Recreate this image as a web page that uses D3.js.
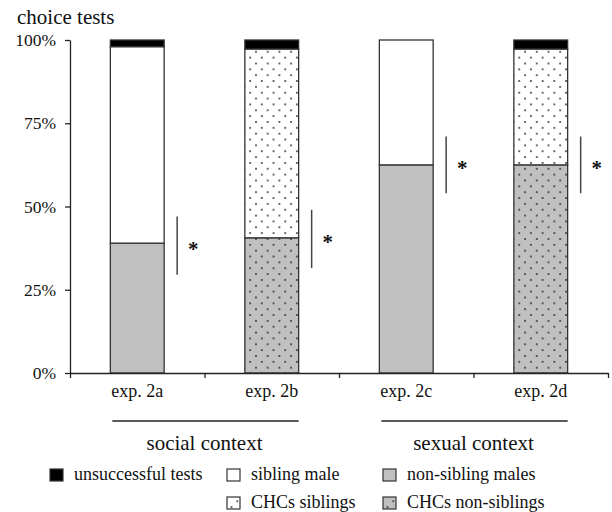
<!DOCTYPE html>
<html>
<head>
<meta charset="utf-8">
<script src="https://cdn.jsdelivr.net/npm/d3@7"></script>
<style>
  body { margin: 0; background: #fff; }
  svg text { font-family: "Liberation Serif", "Times New Roman", serif; fill: #111; }
</style>
</head>
<body>
<svg id="chart" width="612" height="512"></svg>
<script>
// --- data ---
const categories = ["exp. 2a", "exp. 2b", "exp. 2c", "exp. 2d"];
const nonSibling = [39, 40.6, 62.5, 62.5];     // grey part (bottom)
const sibling = [59, 56.7, 37.5, 34.8];        // white part (middle)
const unsuccessful = [2, 2.7, 0, 2.7];         // black part (top)
const usesCHCs = [false, true, false, true];   // dotted = CHC experiments
const sigLow = [29.5, 31.5, 54, 54];
const sigHigh = [47, 49, 71, 71];
const yTicks = [0, 25, 50, 75, 100];
const groupLabels = ["social context", "sexual context"];
const groupFirst = [0, 2];
const groupLast = [1, 3];
const legendLabels = ["unsuccessful tests", "sibling male", "non-sibling males", "CHCs siblings", "CHCs non-siblings"];
const legendKinds = ["unsuccessful", "sibling", "nonSibling", "sibling", "nonSibling"];
const legendDots = [false, false, false, true, true];

const svg = d3.select("#chart");
const grey = "#c0c0c0";
const edge = "#333";

// dotted pattern fill for the CHC bars
const defs = svg.append("defs");
function dotPattern(id, bg) {
  const p = defs.append("pattern")
    .attr("id", id)
    .attr("patternUnits", "userSpaceOnUse")
    .attr("x", 9.3).attr("y", 4)
    .attr("width", 11.7).attr("height", 11.7);
  p.append("rect").attr("width", 11.7).attr("height", 11.7).attr("fill", bg);
  p.append("circle").attr("cx", 1).attr("cy", 1).attr("r", 0.9).attr("fill", "#222");
  p.append("circle").attr("cx", 6.85).attr("cy", 6.85).attr("r", 0.9).attr("fill", "#222");
}
dotPattern("dotsWhite", "#fff");
dotPattern("dotsGrey", grey);

function fillFor(kind, dotted) {
  if (kind === "unsuccessful") return "#000";
  if (kind === "sibling") return dotted ? "url(#dotsWhite)" : "#fff";
  return dotted ? "url(#dotsGrey)" : grey;
}

// --- scales ---
const x = d3.scaleBand().domain(categories).range([70, 608]);
const xEdges = d3.scaleLinear().domain([0, categories.length]).range([70, 608]);
const y = d3.scaleLinear().domain([0, 100]).range([373, 40]);
const barW = x.bandwidth() * 0.4;
const barX = (c) => x(c) + (x.bandwidth() - barW) / 2;

// --- stacked bars ---
const stacks = categories.map((c, i) => {
  const segs = [];
  let base = 0;
  [["nonSibling", nonSibling[i]], ["sibling", sibling[i]], ["unsuccessful", unsuccessful[i]]].forEach(([k, v]) => {
    if (v > 0) segs.push({ cat: c, kind: k, y0: base, y1: base + v, dotted: usesCHCs[i] });
    base += v;
  });
  return segs;
}).flat();

svg.append("g").selectAll("rect")
  .data(stacks)
  .join("rect")
  .attr("x", (d) => barX(d.cat))
  .attr("width", barW)
  .attr("y", (d) => y(d.y1))
  .attr("height", (d) => y(d.y0) - y(d.y1))
  .attr("fill", (d) => fillFor(d.kind, d.dotted))
  .attr("stroke", edge)
  .attr("stroke-width", 1.3);

// --- axes ---
const yAxis = svg.append("g")
  .attr("transform", "translate(70,0)")
  .call(d3.axisLeft(y).tickValues(yTicks).tickFormat((d) => d + "%").tickSize(5).tickPadding(9).tickSizeOuter(0));
yAxis.selectAll("text").style("font-size", "17.5px").attr("fill", "#111");
yAxis.selectAll("path, line").attr("stroke", "#222").attr("stroke-width", 1.3);

const xAxis = svg.append("g")
  .attr("transform", "translate(0,373)")
  .call(d3.axisBottom(xEdges).tickValues(d3.range(categories.length + 1)).tickFormat("").tickSize(5).tickSizeOuter(0));
xAxis.selectAll("path, line").attr("stroke", "#222").attr("stroke-width", 1.3);

const xLabels = svg.append("g")
  .attr("transform", "translate(0,373)")
  .call(d3.axisBottom(x).tickSize(0).tickPadding(11));
xLabels.select(".domain").remove();
xLabels.selectAll("text").style("font-size", "18px").attr("fill", "#111");

// --- significance markers ---
categories.forEach((c, i) => {
  const lx = barX(c) + barW + 13;
  svg.append("line")
    .attr("x1", lx).attr("x2", lx)
    .attr("y1", y(sigHigh[i])).attr("y2", y(sigLow[i]))
    .attr("stroke", "#444").attr("stroke-width", 1.5);
  svg.append("text")
    .attr("x", lx + 16)
    .attr("y", y((sigHigh[i] + sigLow[i]) / 2) + 10)
    .attr("text-anchor", "middle")
    .style("font-size", "21px")
    .style("font-weight", "bold")
    .text("*");
});

// --- context groups ---
groupLabels.forEach((g, i) => {
  const a = barX(categories[groupFirst[i]]) + 2;
  const b = barX(categories[groupLast[i]]) + barW;
  svg.append("line")
    .attr("x1", a).attr("x2", b)
    .attr("y1", 421).attr("y2", 421)
    .attr("stroke", "#222").attr("stroke-width", 1.5);
  svg.append("text")
    .attr("x", (x(categories[groupFirst[i]]) + x(categories[groupLast[i]]) + x.bandwidth()) / 2)
    .attr("y", 450)
    .attr("text-anchor", "middle")
    .style("font-size", "21px")
    .text(g);
});

// --- title ---
svg.append("text")
  .attr("x", 17).attr("y", 24)
  .style("font-size", "21px")
  .text("choice tests");

// --- legend ---
const legendCols = [50, 227, 383];
const legendRows = [480, 508];
const slots = [[0, 0], [1, 0], [2, 0], [1, 1], [2, 1]];
legendLabels.forEach((lab, i) => {
  const [c, r] = slots[i];
  const g = svg.append("g").attr("transform", `translate(${legendCols[c]},${legendRows[r]})`);
  g.append("rect")
    .attr("x", 0).attr("y", -11)
    .attr("width", 13).attr("height", 12)
    .attr("fill", fillFor(legendKinds[i], legendDots[i]))
    .attr("stroke", edge).attr("stroke-width", 1.2);
  g.append("text")
    .attr("x", 24).attr("y", 0)
    .style("font-size", "18px")
    .text(lab);
});
</script>
</body>
</html>
